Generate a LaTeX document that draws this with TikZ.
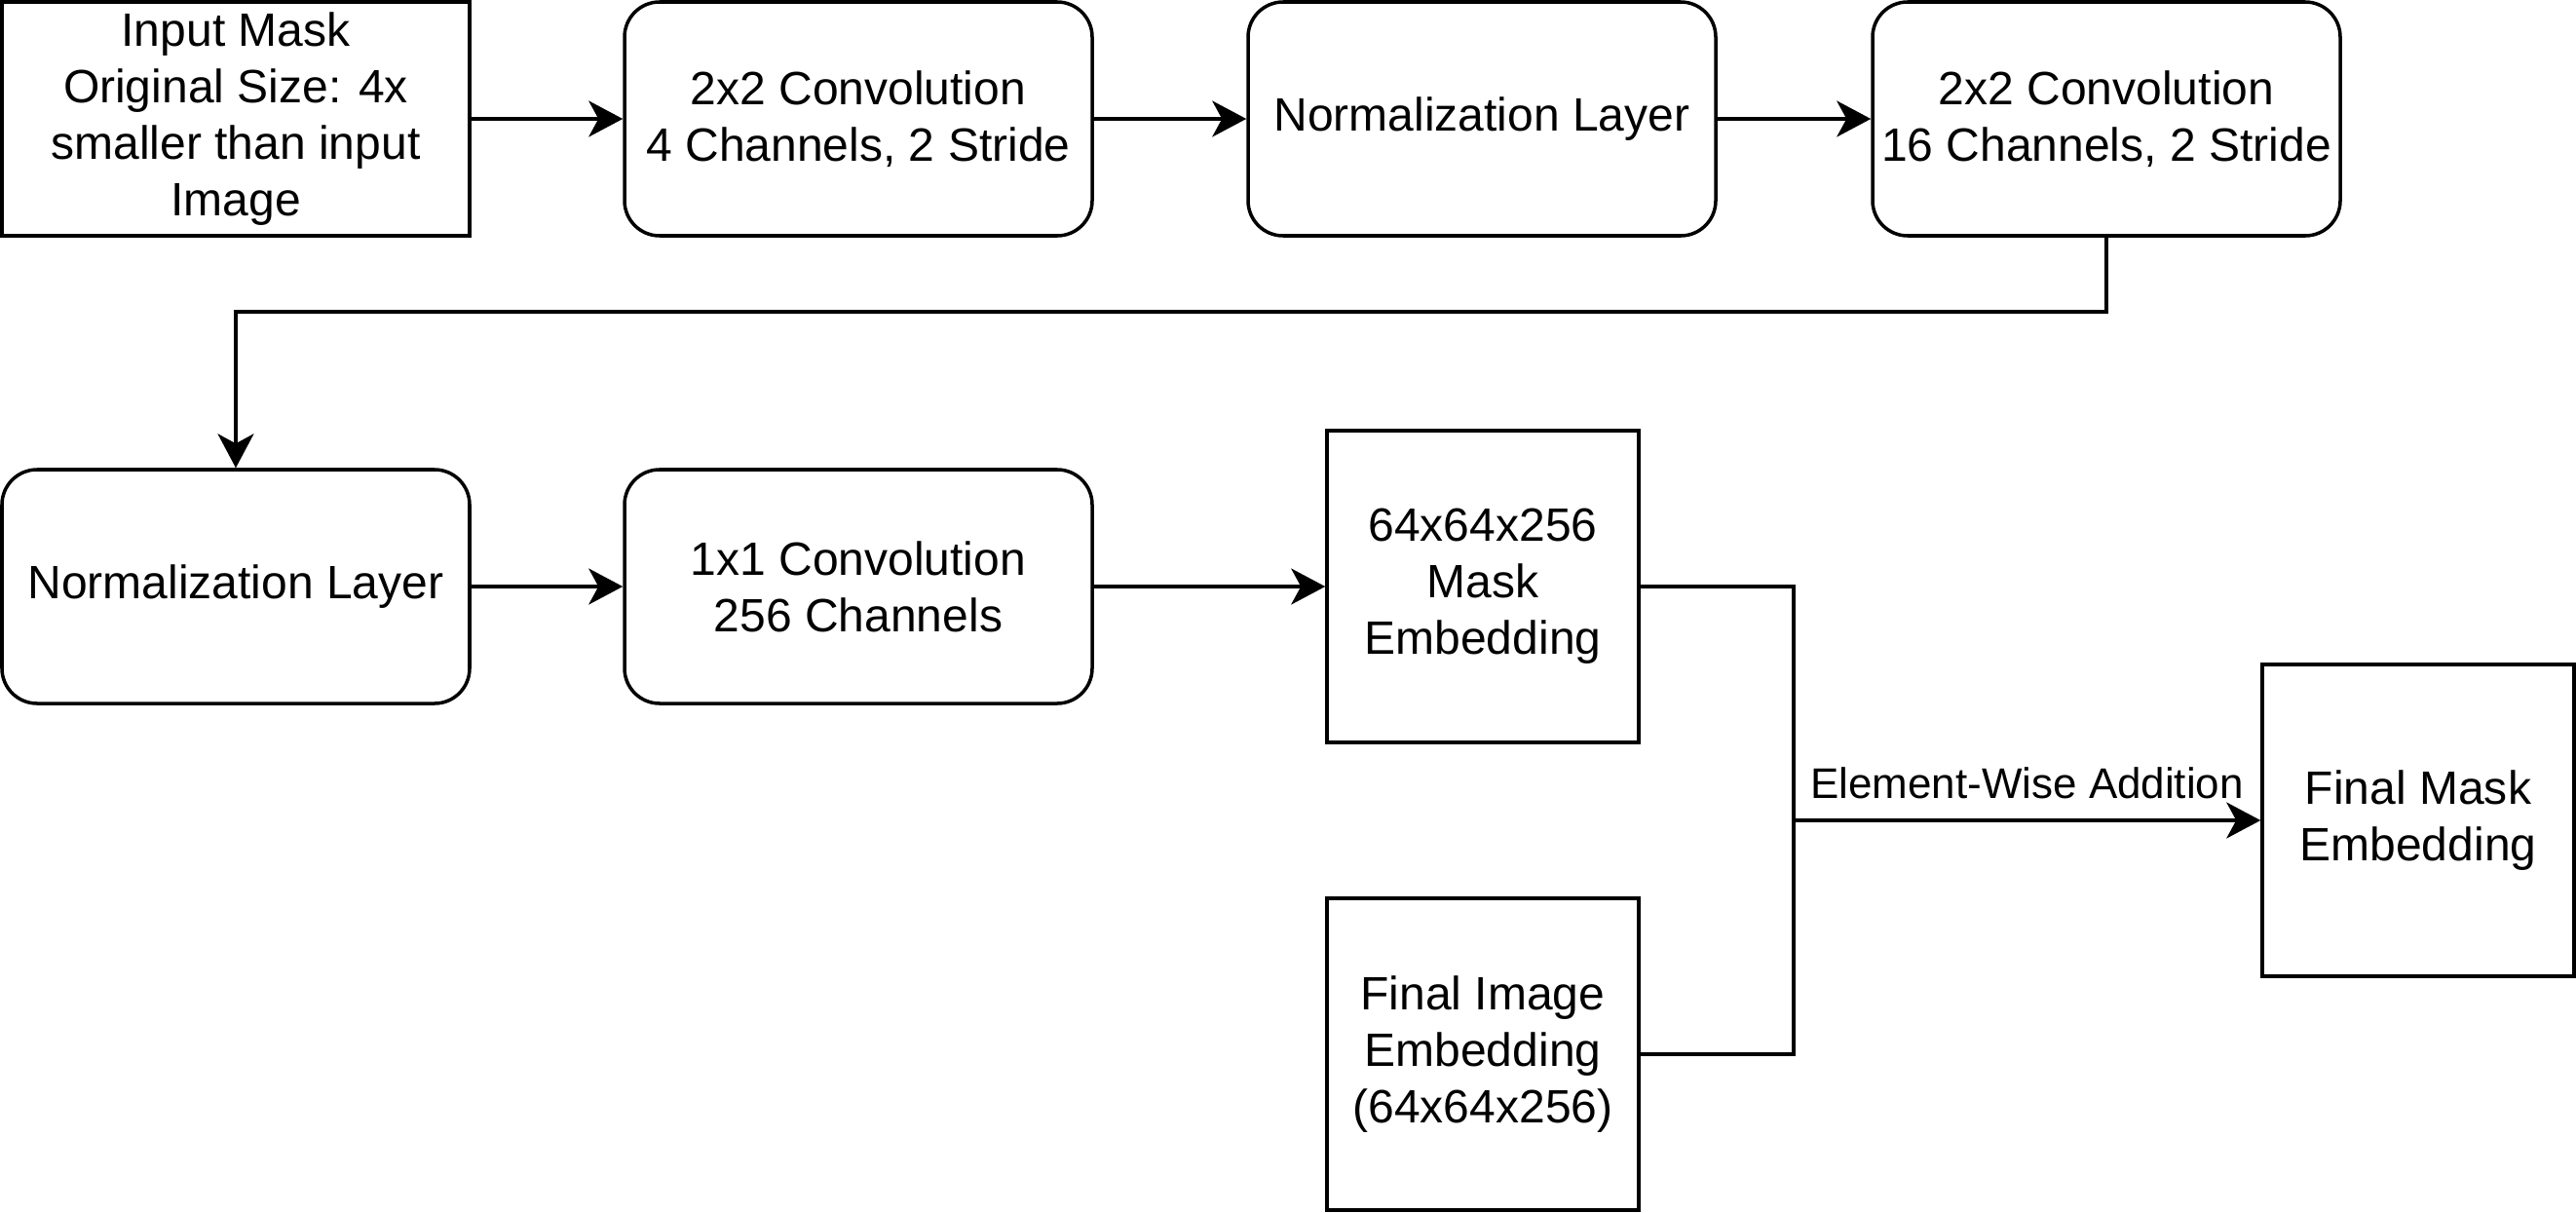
\documentclass[tikz,border=0pt]{standalone}
\usepackage{fontspec}
\setmainfont{Liberation Sans}
\usetikzlibrary{arrows.meta}

\begin{document}
\begin{tikzpicture}[line width=1pt,
  >={Stealth[length=0.35cm,width=0.37cm,inset=0.1cm]},
  font=\fontsize{13.66pt}{16.5pt}\selectfont,
  block/.style={draw, rounded corners=0.36cm, minimum width=4.8cm, minimum height=2.4cm, align=center, inner sep=0pt},
  plainblock/.style={draw, minimum width=4.8cm, minimum height=2.4cm, align=center, inner sep=0pt},
  embblock/.style={draw, minimum width=3.2cm, minimum height=3.2cm, align=center, inner sep=0pt}]

  \useasboundingbox (0,0) rectangle (26.44,-12.44);

  % first row
  \node[plainblock] (inmask) at (2.42,-1.22) {Input Mask\\Original Size: 4x\\smaller than input\\Image};
  \node[block] (convA) at (8.81,-1.22) {2x2 Convolution\\4 Channels, 2 Stride};
  \node[block] (normA) at (15.21,-1.22) {Normalization Layer};
  \node[block] (convB) at (21.62,-1.22) {2x2 Convolution\\16 Channels, 2 Stride};

  % second row
  \node[block] (normB) at (2.42,-6.02) {Normalization Layer};
  \node[block] (convC) at (8.81,-6.02) {1x1 Convolution\\256 Channels};
  \node[embblock] (maskemb) at (15.22,-6.02) {64x64x256\\Mask\\Embedding};

  % image embedding and result
  \node[embblock] (imgemb) at (15.22,-10.82) {Final Image\\Embedding\\(64x64x256)};
  \node[embblock] (finalemb) at (24.82,-8.42) {Final Mask\\Embedding};

  \coordinate (turn) at (0,-3.20);
  \coordinate (join) at (18.41,-8.42);

  \draw[->] (inmask) -- (convA);
  \draw[->] (convA) -- (normA);
  \draw[->] (normA) -- (convB);
  \draw[->] (convB.south) -- (convB.south |- turn) -| (normB.north);
  \draw[->] (normB) -- (convC);
  \draw[->] (convC) -- (maskemb);

  % element-wise addition
  \draw (maskemb.east) -| (join);
  \draw (imgemb.east) -| (join);
  \draw[->] (join) -- (finalemb.west)
    node[midway, anchor=south, inner sep=0pt, yshift=0.2cm, font=\fontsize{12.5pt}{15pt}\selectfont] {Element-Wise Addition};

\end{tikzpicture}
\end{document}
